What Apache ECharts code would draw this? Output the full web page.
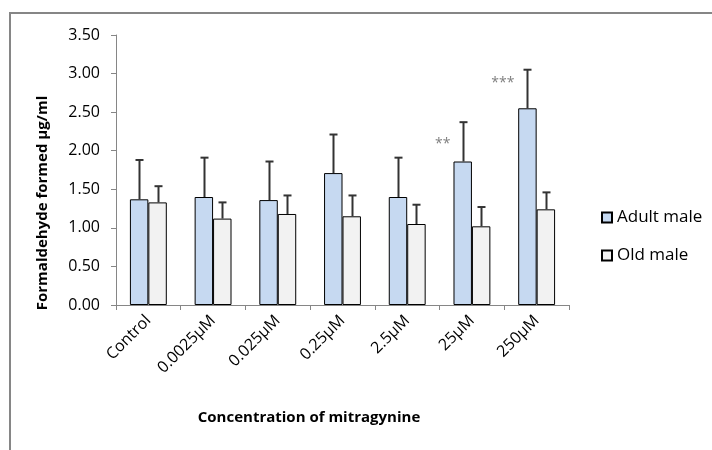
<!DOCTYPE html>
<html>
<head>
<meta charset="utf-8">
<script src="https://cdn.jsdelivr.net/npm/echarts@6/dist/echarts.min.js"></script>
<style>
  html, body { margin: 0; padding: 0; background: #fff; }
  #chart { width: 712px; height: 450px; }
</style>
</head>
<body>
<div id="chart"></div>
<script>
// concentrations on the x axis
var concentrations = ['Control', '0.0025µM', '0.025µM', '0.25µM', '2.5µM', '25µM', '250µM'];

// mean formaldehyde formed (µg/ml) and its upward error
var adultMale = [1.37, 1.40, 1.36, 1.71, 1.40, 1.86, 2.55];
var adultErr = [0.51, 0.51, 0.50, 0.50, 0.51, 0.51, 0.50];
var oldMale = [1.33, 1.12, 1.18, 1.15, 1.05, 1.02, 1.24];
var oldErr = [0.21, 0.21, 0.24, 0.27, 0.25, 0.25, 0.22];

// significance marks on the adult bars, and the value height they sit at
var adultStars = ['', '', '', '', '', '**', '***'];
var starLevel = [0, 0, 0, 0, 0, 2.09, 2.88];

var FONT = 'Open Sans';
var gap = 0.57; // share of a category taken by the two bars

var chart = echarts.init(document.getElementById('chart'));

function errData(vals, errs, stars, levels) {
  var out = [];
  for (var i = 0; i < vals.length; i++) {
    out.push([i, vals[i], errs[i], stars ? (levels[i] || 0) : 0]);
  }
  return out;
}

// draws the error whisker (and star text) over one bar; side is -1 left, +1 right
function errRenderer(side, stars) {
  return function (params, api) {
    var i = api.value(0), v = api.value(1), e = api.value(2);
    var base = api.coord([i, v]);
    var top = api.coord([i, v + e]);
    var bw = api.size([1, 0])[0] * gap / 2;
    var x = Math.round(base[0] + side * bw / 2) + 0.5;
    var kids = [
      { type: 'line', shape: { x1: x, y1: base[1], x2: x, y2: top[1] },
        style: { stroke: '#333', lineWidth: 2 } },
      { type: 'line', shape: { x1: x - 4, y1: top[1], x2: x + 4, y2: top[1] },
        style: { stroke: '#333', lineWidth: 2 } }
    ];
    if (stars && stars[i]) {
      var sp = api.coord([i, api.value(3)]);
      kids.push({ type: 'text', x: x - 13, y: sp[1],
        style: { text: stars[i], fill: '#7f7f7f', font: '14px "' + FONT + '"',
          align: 'right', verticalAlign: 'middle' } });
    }
    return { type: 'group', children: kids };
  };
}

option = {
  animation: false,
  backgroundColor: '#fff',
  textStyle: { fontFamily: FONT },
  grid: { left: 116, right: 143, top: 35, bottom: 145 },
  legend: {
    orient: 'vertical',
    left: 596,
    top: 202,
    itemWidth: 10,
    itemHeight: 10,
    itemGap: 17,
    icon: 'rect',
    data: ['Adult male', 'Old male'],
    textStyle: { fontSize: 17, color: '#000', lineHeight: 21 }
  },
  xAxis: {
    type: 'category',
    data: concentrations,
    axisLine: { lineStyle: { color: '#868686', width: 1 } },
    axisTick: { show: true, length: 5, lineStyle: { color: '#868686' } },
    axisLabel: { rotate: 45, fontSize: 16, color: '#000', margin: 13, interval: 0 }
  },
  yAxis: {
    type: 'value',
    min: 0,
    max: 3.5,
    interval: 0.5,
    splitLine: { show: false },
    axisLine: { show: true, lineStyle: { color: '#868686', width: 1 } },
    axisTick: { show: true, length: 5, lineStyle: { color: '#868686' } },
    axisLabel: { fontSize: 16, color: '#000', margin: 16,
      formatter: function (v) { return v.toFixed(2); } }
  },
  graphic: [
    { type: 'rect', shape: { x: 10, y: 13, width: 900, height: 600 },
      style: { fill: 'none', stroke: '#868686', lineWidth: 2 }, silent: true },
    { type: 'text', x: 43, y: 203, rotation: Math.PI / 2,
      style: { text: 'Formaldehyde formed µg/ml', font: 'bold 15px "' + FONT + '"',
        fill: '#000', align: 'center', verticalAlign: 'middle' } },
    { type: 'text', x: 309, y: 418,
      style: { text: 'Concentration of mitragynine', font: 'bold 15px "' + FONT + '"',
        fill: '#000', align: 'center', verticalAlign: 'middle' } }
  ],
  series: [
    {
      name: 'Adult male', type: 'bar', data: adultMale,
      barGap: '0%', barCategoryGap: '43%',
      itemStyle: { color: '#c6d9f1', borderColor: '#000', borderWidth: 1 }
    },
    {
      name: 'Old male', type: 'bar', data: oldMale,
      barGap: '0%', barCategoryGap: '43%',
      itemStyle: { color: '#f2f2f2', borderColor: '#000', borderWidth: 1 }
    },
    {
      type: 'custom', z: 5, clip: false,
      renderItem: errRenderer(-1, adultStars),
      data: errData(adultMale, adultErr, adultStars, starLevel)
    },
    {
      type: 'custom', z: 5, clip: false,
      renderItem: errRenderer(1, null),
      data: errData(oldMale, oldErr)
    }
  ]
};

chart.setOption(option);
</script>
</body>
</html>
